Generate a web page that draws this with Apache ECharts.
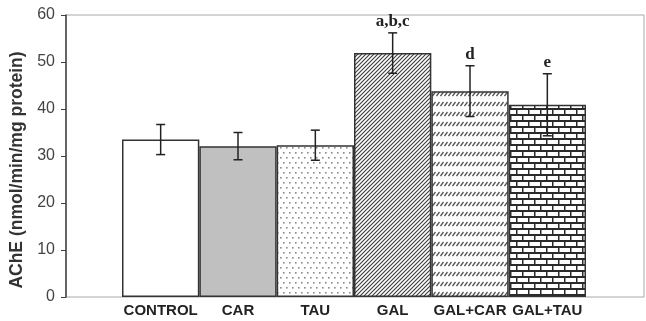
<!DOCTYPE html>
<html>
<head>
<meta charset="utf-8">
<script src="https://cdn.jsdelivr.net/npm/echarts@6/dist/echarts.min.js"></script>
<style>
  html, body { margin: 0; padding: 0; background: #fff; }
  #main { width: 646px; height: 321px; }
</style>
</head>
<body>
<div id="main"></div>
<script>
var groups = ['CONTROL', 'CAR', 'TAU', 'GAL', 'GAL+CAR', 'GAL+TAU'];
var means = [33.5, 32.1, 32.3, 51.9, 43.8, 40.9];
var errors = [3.2, 2.9, 3.2, 4.3, 5.4, 6.6];
var marks = ['', '', '', 'a,b,c', 'd', 'e'];
var yTicks = [0, 10, 20, 30, 40, 50, 60];

// small canvas tiles used as fill patterns
function tile(w, h, draw) {
  var c = document.createElement('canvas');
  c.width = w; c.height = h;
  var ctx = c.getContext('2d');
  ctx.fillStyle = '#fff';
  ctx.fillRect(0, 0, w, h);
  draw(ctx);
  return { image: c, repeat: 'repeat' };
}

var dots = tile(6, 10, function (ctx) {
  ctx.fillStyle = '#8a8a8a';
  ctx.fillRect(1, 2, 1.6, 1.6);
  ctx.fillRect(4, 7, 1.6, 1.6);
});

var hatch = tile(4, 4, function (ctx) {
  ctx.strokeStyle = '#3a3a3a';
  ctx.lineWidth = 1.1;
  ctx.beginPath();
  ctx.moveTo(-1, 5); ctx.lineTo(5, -1);
  ctx.moveTo(-1, 1); ctx.lineTo(1, -1);
  ctx.moveTo(3, 5); ctx.lineTo(5, 3);
  ctx.stroke();
});

var dashRows = tile(4, 10, function (ctx) {
  ctx.strokeStyle = '#555';
  ctx.lineWidth = 1.3;
  ctx.beginPath();
  ctx.moveTo(0.5, 6); ctx.lineTo(3.5, 2);
  ctx.stroke();
});

var bricks = tile(12, 12, function (ctx) {
  ctx.fillStyle = '#2a2a2a';
  ctx.fillRect(0, 0, 12, 2);
  ctx.fillRect(0, 6, 12, 2);
  ctx.fillRect(0, 0, 1.5, 6);
  ctx.fillRect(6, 6, 1.5, 6);
});

var fills = ['#ffffff', '#c0c0c0', dots, hatch, dashRows, bricks];

var myChart = echarts.init(document.getElementById('main'));

var option = {
  backgroundColor: '#fff',
  animation: false,
  grid: [
    { left: 66, right: 2, top: 15, bottom: 24, show: true, borderColor: '#a8a8a8', borderWidth: 1 },
    { left: 122, right: 60, top: 15, bottom: 24 }
  ],
  xAxis: [
    { gridIndex: 0, type: 'value', min: 0, max: 1, show: false },
    {
      gridIndex: 1,
      type: 'category',
      data: groups,
      axisLine: { show: false },
      axisTick: { show: false },
      axisLabel: {
        margin: 6,
        interval: 0,
        color: '#222',
        fontFamily: 'Arial, Liberation Sans, sans-serif',
        fontWeight: 'bold',
        fontSize: 15
      }
    }
  ],
  yAxis: [
    {
      gridIndex: 0,
      type: 'value',
      min: yTicks[0],
      max: yTicks[yTicks.length - 1],
      interval: 10,
      name: 'AChE (nmol/min/mg protein)',
      nameLocation: 'middle',
      nameRotate: 90,
      nameGap: 33,
      nameTextStyle: {
        color: '#333',
        fontFamily: 'Arial, Liberation Sans, sans-serif',
        fontWeight: 'bold',
        fontSize: 17.5,
        padding: [0, 28, 0, 0]
      },
      axisLine: { show: true, lineStyle: { color: '#404040', width: 1.5 } },
      axisTick: { show: true, length: 5, lineStyle: { color: '#404040' } },
      splitLine: { show: false },
      axisLabel: {
        margin: 11,
        color: '#444',
        fontFamily: 'Arial, Liberation Sans, sans-serif',
        fontSize: 16
      }
    },
    { gridIndex: 1, type: 'value', min: 0, max: 60, show: false }
  ],
  series: [
    {
      type: 'bar',
      xAxisIndex: 1,
      yAxisIndex: 1,
      barCategoryGap: '0%',
      data: means.map(function (v, i) {
        return {
          value: v,
          itemStyle: { color: fills[i], borderColor: '#333', borderWidth: 1.5 }
        };
      })
    },
    {
      type: 'custom',
      xAxisIndex: 1,
      yAxisIndex: 1,
      z: 10,
      data: means.map(function (v, i) { return [i, v, errors[i]]; }),
      renderItem: function (params, api) {
        var i = api.value(0);
        var m = api.value(1);
        var e = api.value(2);
        var top = api.coord([i, m + e]);
        var bot = api.coord([i, m - e]);
        var half = 4.5;
        var style = { stroke: '#222', lineWidth: 1.5 };
        var children = [
          { type: 'line', shape: { x1: top[0], y1: top[1], x2: bot[0], y2: bot[1] }, style: style },
          { type: 'line', shape: { x1: top[0] - half, y1: top[1], x2: top[0] + half, y2: top[1] }, style: style },
          { type: 'line', shape: { x1: bot[0] - half, y1: bot[1], x2: bot[0] + half, y2: bot[1] }, style: style }
        ];
        if (marks[i]) {
          children.push({
            type: 'text',
            x: top[0],
            y: top[1] - 3,
            style: {
              text: marks[i],
              fill: '#222',
              font: 'bold 17px "Liberation Serif", "Times New Roman", serif',
              textAlign: 'center',
              textVerticalAlign: 'bottom'
            }
          });
        }
        return { type: 'group', children: children };
      }
    }
  ]
};

myChart.setOption(option);
window.addEventListener('resize', function () {
  myChart.resize();
});
</script>
</body>
</html>
